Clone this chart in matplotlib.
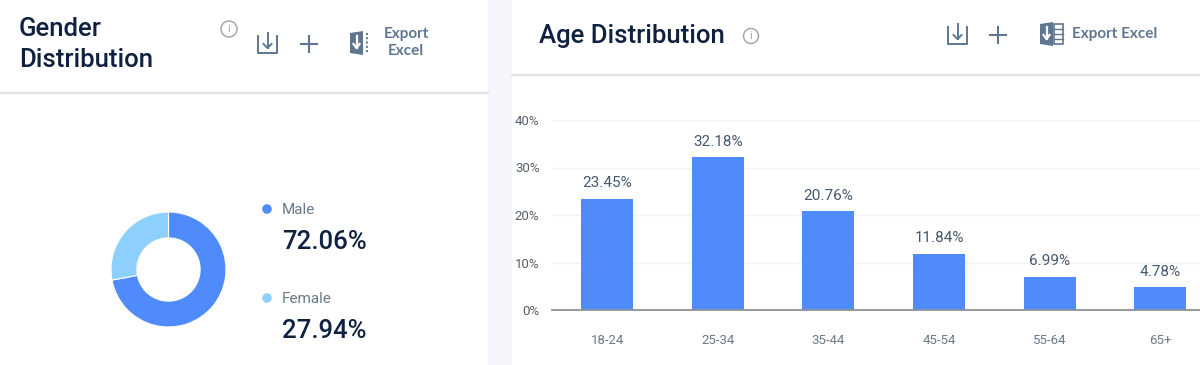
import matplotlib
matplotlib.use('Agg')
from matplotlib import pyplot as plt
from matplotlib.patches import Rectangle, Circle, Polygon

W, H = 1200, 365

# data
genders = ['Male', 'Female']
gender_share = [72.06, 27.94]
age_groups = ['18-24', '25-34', '35-44', '45-54', '55-64', '65+']
age_share = [23.45, 32.18, 20.76, 11.84, 6.99, 4.78]
y_ticks = [0, 10, 20, 30, 40]

BLUE = '#4f8bfb'
LIGHT = '#8dd0fd'
NAVY = '#0f2140'
SLATE = '#5f7690'
GREY = '#6a7a8c'

plt.rcParams['font.family'] = ['Roboto', 'DejaVu Sans']


def px_axes(fig, left, top, right, bottom, **kw):
    # axes placed with pixel coords measured from the top left
    return fig.add_axes([left / W, 1 - bottom / H, (right - left) / W, (bottom - top) / H], **kw)


def save_icon(ax, x, y):
    ax.plot([x, x, x + 19, x + 19], [y - 8, y + 9, y + 9, y - 8], color=SLATE, lw=1.4)
    ax.plot([x + 9.5, x + 9.5], [y - 11, y + 4], color=SLATE, lw=1.4)
    ax.plot([x + 5.5, x + 9.5, x + 13.5], [y, y + 4, y], color=SLATE, lw=1.4)


def plus_icon(ax, x, y):
    ax.plot([x - 8, x + 8], [y, y], color=SLATE, lw=1.5)
    ax.plot([x, x], [y - 8, y + 8], color=SLATE, lw=1.5)


def info_icon(ax, x, y, r):
    ax.add_patch(Circle((x, y), r, fc='none', ec='#a3a8ae', lw=1.1))
    ax.text(x, y + 0.3, 'i', color='#a3a8ae', fontsize=8, ha='center', va='center')


def excel_icon(ax, x, y, h, grid):
    ax.add_patch(Polygon([(x, y - h / 2 + 2), (x + 13, y - h / 2), (x + 13, y + h / 2), (x, y + h / 2 - 2)],
                         fc=SLATE, ec='none'))
    ax.plot([x + 6.5, x + 6.5], [y - 7, y + 5], color='white', lw=1.6)
    ax.plot([x + 3.5, x + 6.5, x + 9.5], [y + 1, y + 5, y + 1], color='white', lw=1.6)
    if grid:
        ax.add_patch(Rectangle((x + 14, y - h / 2 + 2), 9, h - 4, fc='none', ec=SLATE, lw=1.2))
        for k in range(1, 4):
            ax.plot([x + 14, x + 23], [y - h / 2 + 2 + k * (h - 4) / 4] * 2, color=SLATE, lw=1.0)
    else:
        ax.plot([x + 17, x + 17], [y - h / 2 + 2, y + h / 2 - 2], color=SLATE, lw=1.4, ls=(0, (1, 1.2)))


fig = plt.figure(figsize=(W / 100, H / 100), dpi=100, facecolor='white')

# page chrome, same pixel system as the reference
bg = px_axes(fig, 0, 0, W, H)
bg.set_xlim(0, W)
bg.set_ylim(H, 0)
bg.axis('off')
bg.add_patch(Rectangle((488, 0), 24, H, fc='#f4f6fc', ec='none'))
bg.plot([0, 488], [93, 93], color='#dfe2e8', lw=1.6)
bg.plot([512, W], [75, 75], color='#dfe2e8', lw=1.6)

# left header
bg.text(19, 29, 'Gender', color=NAVY, fontsize=18.5, fontweight='medium', va='center')
bg.text(19, 60, 'Distribution', color=NAVY, fontsize=18.5, fontweight='medium', va='center')
info_icon(bg, 229, 29, 8)
save_icon(bg, 258, 44)
plus_icon(bg, 309, 44)
excel_icon(bg, 350, 43, 24, False)
bg.text(406, 34, 'Export', color=SLATE, fontsize=11, fontweight='bold', family=['Lato'], ha='center', va='center')
bg.text(406, 51, 'Excel', color=SLATE, fontsize=11, fontweight='bold', family=['Lato'], ha='center', va='center')

# right header
bg.text(539, 36, 'Age Distribution', color=NAVY, fontsize=18.5, fontweight='medium', va='center')
info_icon(bg, 751, 36, 7.5)
save_icon(bg, 948, 35)
plus_icon(bg, 998, 35)
excel_icon(bg, 1040, 34, 24, True)
bg.text(1072, 34, 'Export Excel', color=SLATE, fontsize=11, fontweight='bold', family=['Lato'], va='center')

# donut
pie_ax = px_axes(fig, 111, 212, 226, 327)
pie_ax.pie(gender_share, colors=[BLUE, LIGHT], startangle=90, counterclock=False, radius=1,
           wedgeprops=dict(width=0.45, edgecolor='white', linewidth=0.8))
pie_ax.set_xlim(-1, 1)
pie_ax.set_ylim(-1, 1)

# legend with the values
for name, share, col, y_name, y_val in zip(genders, gender_share, [BLUE, LIGHT], [210, 299], [242, 331]):
    bg.add_patch(Circle((267, y_name - 1), 4.8, fc=col, ec='none'))
    bg.text(282, y_name, name, color=GREY, fontsize=11, va='center')
    bg.text(282, y_val, '%.2f%%' % share, color=NAVY, fontsize=18.5, fontweight='medium', va='center')

# bars
ax = px_axes(fig, 552, 120, W, 310)
ax.patch.set_alpha(0)
x = range(len(age_groups))
bars = ax.bar(x, age_share, width=0.47, color=BLUE, zorder=3)
ax.set_xlim(-0.5, 5.36)
ax.set_ylim(0, 40)
ax.set_xticks(list(x))
ax.set_xticklabels(age_groups)
ax.set_yticks(y_ticks)
ax.set_yticklabels(['%d%%' % t for t in y_ticks])
ax.tick_params(axis='x', length=0, pad=17, labelsize=9.5, labelcolor=GREY)
ax.tick_params(axis='y', length=0, pad=9, labelsize=9.5, labelcolor='#555f6b')
ax.grid(axis='y', color='#f1f2f4', lw=1, zorder=0)
for s in ['top', 'left', 'right']:
    ax.spines[s].set_visible(False)
ax.spines['bottom'].set_color('#8f9296')
ax.spines['bottom'].set_linewidth(1.3)
ax.spines['bottom'].set_zorder(4)
for b, v in zip(bars, age_share):
    ax.annotate('%.2f%%' % v, (b.get_x() + b.get_width() / 2, v), xytext=(0, 6), textcoords='offset points',
                ha='center', va='bottom', color='#46586f', fontsize=11)

fig.savefig('out.png', dpi=100)
